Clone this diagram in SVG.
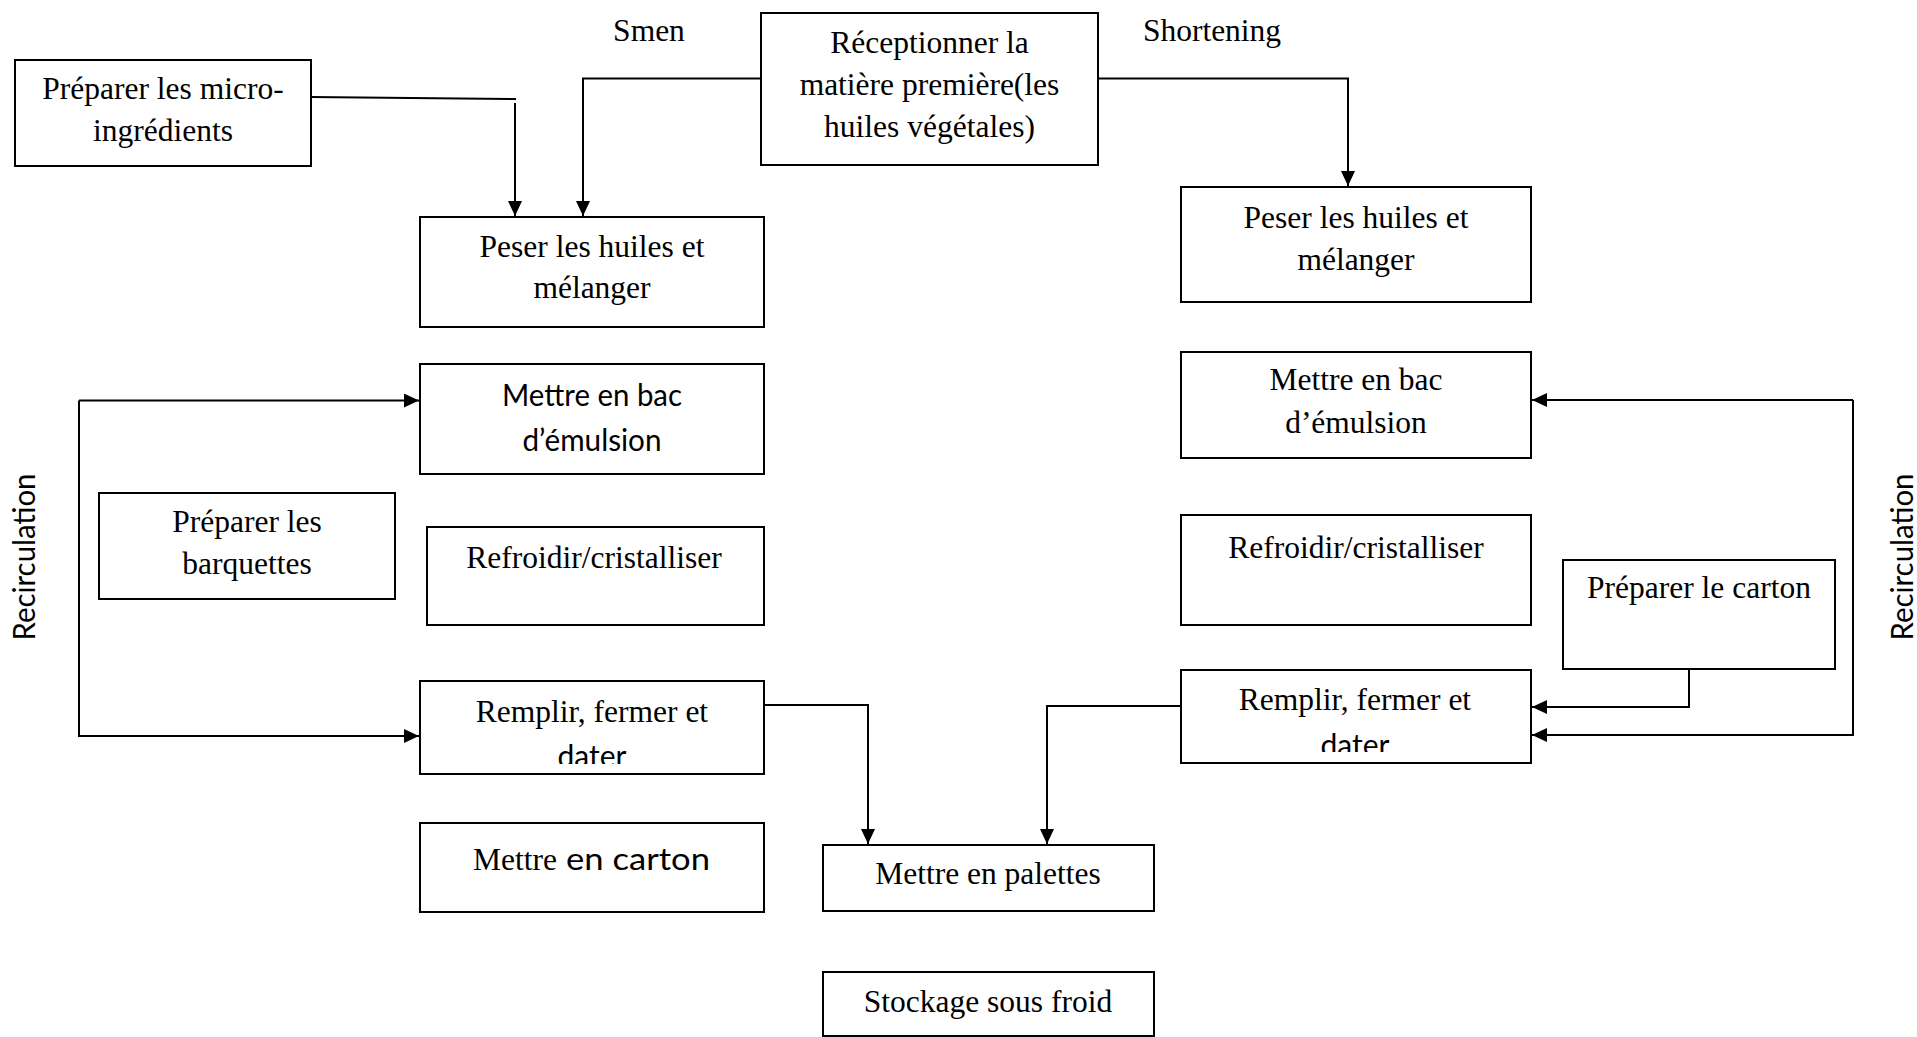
<svg xmlns="http://www.w3.org/2000/svg" width="1917" height="1037" viewBox="0 0 1917 1037">
  <style>
    .box { fill: #ffffff; stroke: #000000; stroke-width: 2; }
    .serif { font-family: "Liberation Serif", "Times New Roman", serif; font-size: 31.5px; fill: #000000; text-anchor: middle; }
    .start { text-anchor: start; }
    .sans { font-family: Lato, "Liberation Sans", sans-serif; font-size: 30px; fill: #000000; }
    .link { fill: none; stroke: #000000; stroke-width: 2; }
    .arrow { fill: none; stroke: #000000; stroke-width: 2; marker-end: url(#head); }
  </style>
  <defs>
    <marker id="head" markerUnits="userSpaceOnUse" markerWidth="16" markerHeight="14" refX="15" refY="7" orient="auto">
      <path d="M0,0 L15,7 L0,14 Z" fill="#000000"/>
    </marker>
    <clipPath id="clipLeftFill"><rect x="420" y="681" width="344" height="83"/></clipPath>
    <clipPath id="clipRightFill"><rect x="1181" y="670" width="350" height="82"/></clipPath>
  </defs>
  <rect width="1917" height="1037" fill="#ffffff"/>

  <!-- connectors -->
  <g id="connectors">
    <!-- micro-ingredients into the Smen weighing step -->
    <path class="link" d="M311 97 L516 99"/>
    <path class="arrow" d="M515 103 V216"/>
    <!-- raw material branches -->
    <path class="arrow" d="M761 78.5 H583 V216"/>
    <path class="arrow" d="M1098 78.5 H1348 V186"/>
    <!-- left recirculation loop -->
    <path class="arrow" d="M79 400.5 H419"/>
    <path class="arrow" d="M79 400.5 V736 H419"/>
    <!-- right recirculation loop -->
    <path class="arrow" d="M1853 400 H1532"/>
    <path class="arrow" d="M1853 400 V735 H1532"/>
    <!-- carton preparation into filling -->
    <path class="arrow" d="M1689 669 V707 H1532"/>
    <!-- filling to palletising -->
    <path class="arrow" d="M764 705 H868 V844"/>
    <path class="arrow" d="M1181 706 H1047 V844"/>
  </g>

  <!-- side labels -->
  <text id="label-smen" class="serif" x="649" y="41">Smen</text>
  <text id="label-shortening" class="serif" x="1212" y="41">Shortening</text>
  <text id="label-recirc-left" class="sans" text-anchor="middle" textLength="167" lengthAdjust="spacingAndGlyphs" transform="translate(35,557) rotate(-90)">Recirculation</text>
  <text id="label-recirc-right" class="sans" text-anchor="middle" textLength="167" lengthAdjust="spacingAndGlyphs" transform="translate(1913,557) rotate(-90)">Recirculation</text>

  <!-- nodes -->
  <g id="node-micro">
    <rect class="box" x="15" y="60" width="296" height="106"/>
    <text class="serif" x="163" y="99">Préparer les micro-</text>
    <text class="serif" x="163" y="141">ingrédients</text>
  </g>

  <g id="node-reception">
    <rect class="box" x="761" y="13" width="337" height="152"/>
    <text class="serif" x="929.5" y="53">Réceptionner la</text>
    <text class="serif" x="929.5" y="95">matière première(les</text>
    <text class="serif" x="929.5" y="137">huiles végétales)</text>
  </g>

  <g id="node-peser-smen">
    <rect class="box" x="420" y="217" width="344" height="110"/>
    <text class="serif" x="592" y="257">Peser les huiles et</text>
    <text class="serif" x="592" y="298">mélanger</text>
  </g>

  <g id="node-peser-shortening">
    <rect class="box" x="1181" y="187" width="350" height="115"/>
    <text class="serif" x="1356" y="228">Peser les huiles et</text>
    <text class="serif" x="1356" y="270">mélanger</text>
  </g>

  <g id="node-bac-smen">
    <rect class="box" x="420" y="364" width="344" height="110"/>
    <text class="sans" x="592" y="406" text-anchor="middle" textLength="180" lengthAdjust="spacingAndGlyphs">Mettre en bac</text>
    <text class="sans" x="592" y="451" text-anchor="middle" textLength="139" lengthAdjust="spacingAndGlyphs">d’émulsion</text>
  </g>

  <g id="node-bac-shortening">
    <rect class="box" x="1181" y="352" width="350" height="106"/>
    <text class="serif" x="1356" y="390">Mettre en bac</text>
    <text class="serif" x="1356" y="433">d’émulsion</text>
  </g>

  <g id="node-barquettes">
    <rect class="box" x="99" y="493" width="296" height="106"/>
    <text class="serif" x="247" y="532">Préparer les</text>
    <text class="serif" x="247" y="574">barquettes</text>
  </g>

  <g id="node-refroidir-smen">
    <rect class="box" x="427" y="527" width="337" height="98"/>
    <text class="serif" x="594" y="568">Refroidir/cristalliser</text>
  </g>

  <g id="node-refroidir-shortening">
    <rect class="box" x="1181" y="515" width="350" height="110"/>
    <text class="serif" x="1356" y="558">Refroidir/cristalliser</text>
  </g>

  <g id="node-carton-prep">
    <rect class="box" x="1563" y="560" width="272" height="109"/>
    <text class="serif" x="1699" y="598">Préparer le carton</text>
  </g>

  <g id="node-remplir-smen">
    <rect class="box" x="420" y="681" width="344" height="93"/>
    <text class="serif" x="592" y="722">Remplir, fermer et</text>
    <text class="sans" x="592" y="767" text-anchor="middle" clip-path="url(#clipLeftFill)">dater</text>
  </g>

  <g id="node-remplir-shortening">
    <rect class="box" x="1181" y="670" width="350" height="93"/>
    <text class="serif" x="1355" y="710">Remplir, fermer et</text>
    <text class="sans" x="1355" y="756" text-anchor="middle" clip-path="url(#clipRightFill)">dater</text>
  </g>

  <g id="node-mettre-carton">
    <rect class="box" x="420" y="823" width="344" height="89"/>
    <text class="serif start" x="473" y="870">Mettre</text>
    <text class="sans" x="566" y="870" font-size="35" textLength="144" lengthAdjust="spacingAndGlyphs">en carton</text>
  </g>

  <g id="node-palettes">
    <rect class="box" x="823" y="845" width="331" height="66"/>
    <text class="serif" x="988" y="884">Mettre en palettes</text>
  </g>

  <g id="node-stockage">
    <rect class="box" x="823" y="972" width="331" height="64"/>
    <text class="serif" x="988" y="1012">Stockage sous froid</text>
  </g>
</svg>
